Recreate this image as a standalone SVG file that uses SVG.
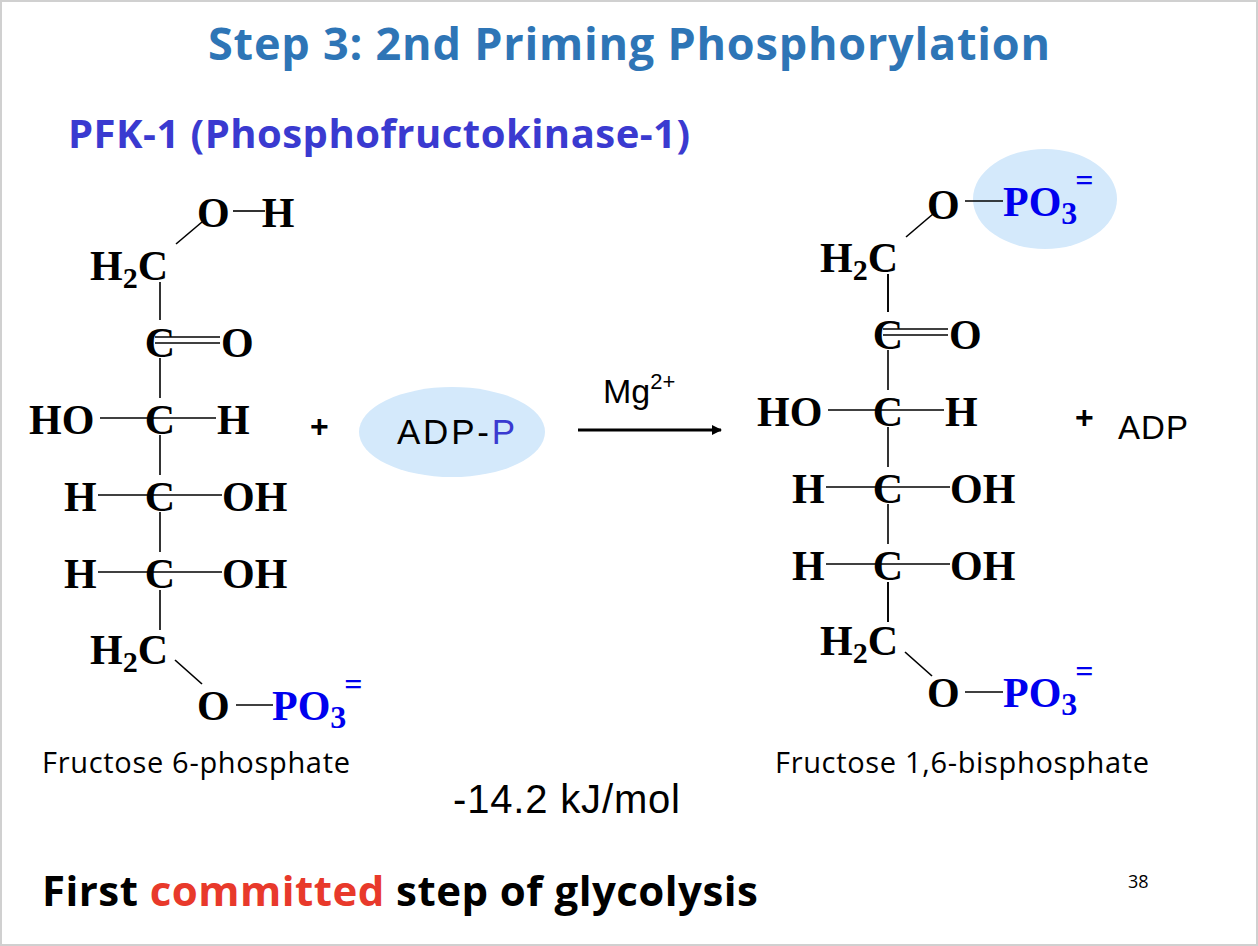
<svg xmlns="http://www.w3.org/2000/svg" width="1258" height="946" viewBox="0 0 1258 946">
<style>
.ch{font-family:"Liberation Serif",serif;font-weight:bold;font-size:42px;fill:#000}
.p{fill:#0000EE}
.b{stroke:#000;stroke-width:1.6;fill:none}
.s{font-family:"Open Sans","Noto Sans",sans-serif}
.a{font-family:"Liberation Sans",sans-serif}
</style>
<defs>
<marker id="ah" markerWidth="10" markerHeight="10" refX="9" refY="5" orient="auto" markerUnits="userSpaceOnUse"><path d="M0,0 L10,5 L0,10 Z" fill="#000"/></marker>
<g id="mol">
<line class="b" x1="160" y1="282" x2="160" y2="320"/>
<line class="b" x1="160" y1="358" x2="160" y2="398"/>
<line class="b" x1="160" y1="435" x2="160" y2="475"/>
<line class="b" x1="160" y1="512" x2="160" y2="552"/>
<line class="b" x1="160" y1="590" x2="160" y2="630"/>
<line class="b" x1="155" y1="337" x2="220" y2="337"/>
<line class="b" x1="155" y1="343" x2="220" y2="343"/>
<line class="b" x1="100" y1="418" x2="216" y2="418"/>
<line class="b" x1="98" y1="495" x2="222" y2="495"/>
<line class="b" x1="98" y1="572" x2="222" y2="572"/>
<text class="ch" x="160" y="357" text-anchor="middle">C</text>
<text class="ch" x="160" y="434" text-anchor="middle">C</text>
<text class="ch" x="160" y="511" text-anchor="middle">C</text>
<text class="ch" x="160" y="588" text-anchor="middle">C</text>
<text class="ch" x="221" y="357">O</text>
<text class="ch" x="29" y="434">HO</text>
<text class="ch" x="217" y="434">H</text>
<text class="ch" x="64" y="511">H</text>
<text class="ch" x="222" y="511">OH</text>
<text class="ch" x="64" y="588">H</text>
<text class="ch" x="222" y="588">OH</text>
</g>
</defs>
<rect x="1" y="1" width="1256" height="944" fill="#fff" stroke="#d0d0d0" stroke-width="2"/>
<text x="208" y="60" textLength="842" class="s" font-weight="bold" font-size="45" fill="#2E75B6">Step 3: 2nd Priming Phosphorylation</text>
<text x="68" y="148" textLength="622" class="s" font-weight="bold" font-size="40" fill="#3A3AD0">PFK-1 (Phosphofructokinase-1)</text>

<ellipse cx="1045" cy="199" rx="72" ry="50" fill="#D4E9FB"/>
<ellipse cx="452" cy="432" rx="93" ry="45" fill="#D4E9FB"/>

<g id="f6p">
<use href="#mol"/>
<text class="ch" x="90" y="280">H<tspan font-size="30" dy="8">2</tspan><tspan dy="-8">C</tspan></text>
<text class="ch" x="197" y="227">O<tspan dx="32">H</tspan></text>
<line class="b" x1="176" y1="244" x2="202" y2="222"/>
<line class="b" x1="233" y1="211" x2="265" y2="211"/>
<text class="ch" x="90" y="664">H<tspan font-size="30" dy="8">2</tspan><tspan dy="-8">C</tspan></text>
<line class="b" x1="175" y1="660" x2="202" y2="684"/>
<text class="ch" x="197" y="720">O</text>
<line class="b" x1="236" y1="705" x2="273" y2="705"/>
<text class="ch p" x="272" y="720">PO<tspan font-size="32" dy="8">3</tspan><tspan font-size="32" dx="-2" dy="-33">=</tspan></text>
<text x="42" y="773" textLength="308" class="s" font-size="29">Fructose 6-phosphate</text>
</g>

<g id="plus1"><text x="310" y="437" class="a" font-weight="bold" font-size="32">+</text></g>
<g id="adpp"><text x="397" y="444" textLength="118" class="a" font-size="35">ADP-<tspan fill="#3A3AD0">P</tspan></text></g>

<g id="connectors">
<line x1="578" y1="430" x2="721" y2="430" stroke="#000" stroke-width="3" marker-end="url(#ah)"/>
</g>
<text x="603" y="403" class="a" font-size="34">Mg<tspan font-size="22" dy="-14">2+</tspan></text>

<g id="f16bp">
<use href="#mol" transform="translate(728,-8)"/>
<line class="b" x1="888" y1="274" x2="888" y2="312"/>
<line class="b" x1="888" y1="582" x2="888" y2="622"/>
<text class="ch" x="820" y="272">H<tspan font-size="30" dy="8">2</tspan><tspan dy="-8">C</tspan></text>
<line class="b" x1="906" y1="237" x2="933" y2="214"/>
<text class="ch" x="927" y="219">O</text>
<line class="b" x1="965" y1="201" x2="1003" y2="201"/>
<text class="ch p" x="1003" y="216">PO<tspan font-size="32" dy="8">3</tspan><tspan font-size="32" dx="-2" dy="-33">=</tspan></text>
<text class="ch" x="820" y="655">H<tspan font-size="30" dy="8">2</tspan><tspan dy="-8">C</tspan></text>
<line class="b" x1="905" y1="652" x2="932" y2="676"/>
<text class="ch" x="927" y="707">O</text>
<line class="b" x1="965" y1="692" x2="1003" y2="692"/>
<text class="ch p" x="1003" y="707">PO<tspan font-size="32" dy="8">3</tspan><tspan font-size="32" dx="-2" dy="-33">=</tspan></text>
<text x="775" y="773" textLength="374" class="s" font-size="29">Fructose 1,6-bisphosphate</text>
</g>

<g id="adp"><text x="1075" y="428" class="a" font-weight="bold" font-size="32">+</text><text x="1118" y="439" textLength="70" class="a" font-size="33">ADP</text></g>

<text x="453" y="813" textLength="227" class="a" font-size="40">-14.2 kJ/mol</text>
<text x="42" y="906" textLength="716" class="s" font-weight="bold" font-size="42">First <tspan fill="#E8392B">committed</tspan> step of glycolysis</text>
<text x="1128" y="888" class="s" font-size="18">38</text>
</svg>
